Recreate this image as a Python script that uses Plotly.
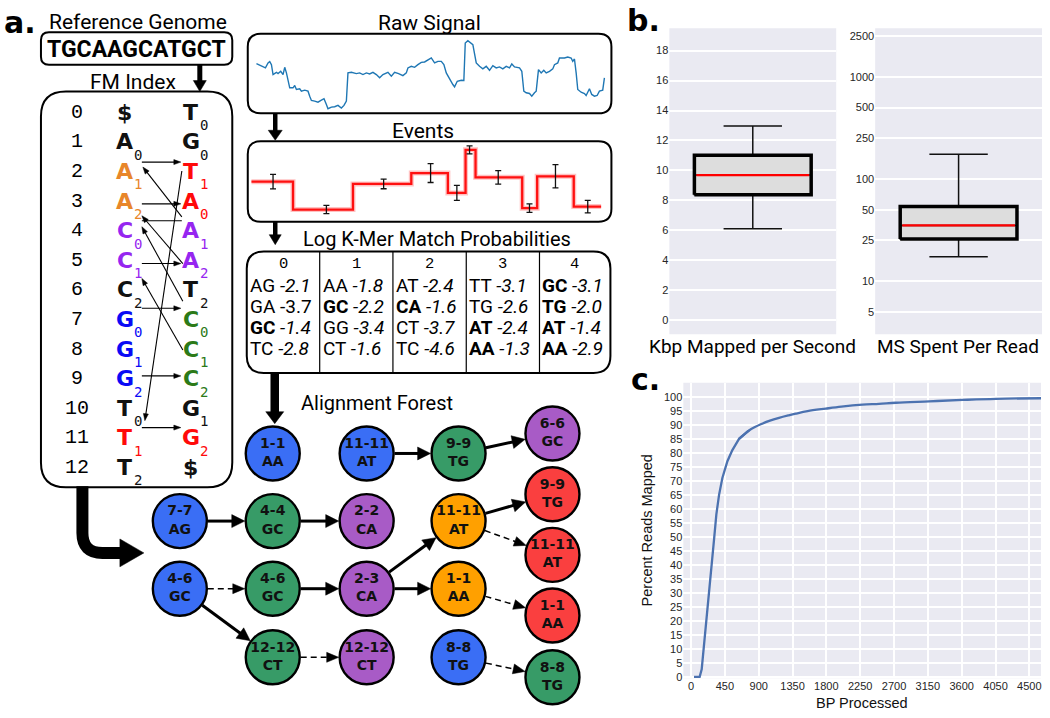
import math
import plotly.graph_objects as go

W, H = 1050, 718

# ======================= DATA =======================
reference_genome = "TGCAAGCATGCT"

fm_rows = list(range(13))
fm_first_char = ['$', 'A', 'A', 'A', 'C', 'C', 'C', 'G', 'G', 'G', 'T', 'T', 'T']
fm_first_sub = ['', '0', '1', '2', '0', '1', '2', '0', '1', '2', '0', '1', '2']
fm_first_grp = ['k', 'k', 'o', 'o', 'p', 'p', 'k', 'b', 'b', 'b', 'k', 'r', 'k']
fm_last_char = ['T', 'G', 'T', 'A', 'A', 'A', 'T', 'C', 'C', 'C', 'G', 'G', '$']
fm_last_sub = ['0', '0', '1', '0', '1', '2', '2', '0', '1', '2', '1', '2', '']
fm_last_grp = ['k', 'k', 'r', 'r', 'p', 'p', 'k', 'g', 'g', 'g', 'k', 'r', 'k']

signal_t = [0.7, 5.7, 9.7, 12.3, 14, 15.7, 17.3, 20.7, 22.3, 25,
            27.3, 29, 30.7, 34, 37.3, 39, 40.7, 44, 45.7, 49,
            52.3, 54, 55.7, 59, 62.3, 65.7, 68.3, 70.7, 72.3, 75.7,
            79, 82.3, 85.7, 88.3, 90.7, 92.3, 95.7, 100.7, 104, 107.3,
            110.7, 114, 117.3, 120.7, 124, 127.3, 132.3, 135.7, 139, 143,
            147.3, 150.7, 152.3, 155.7, 159, 162.3, 165.7, 169, 172.3, 175.7,
            179, 182.3, 185.7, 188.3, 190.7, 194, 197.3, 199, 201.7, 205.7,
            208.3, 209.7, 212.3, 217.3, 219, 220.7, 224, 227.3, 230.7, 234,
            237.3, 240.7, 244, 247.3, 250.7, 254, 256.3, 259, 264, 266.3,
            268.3, 270.7, 274, 276.3, 279, 280.7, 283, 285.7, 288.3, 290.7,
            294, 297.3, 299, 302.3, 304, 309, 312.3, 315.7, 317.3, 319,
            320.7, 322.3, 325.7, 329, 330.7, 334, 336.3, 339, 341.7, 344,
            347.3, 349]
signal_pA = [56, 54, 51.7, 56.7, 58, 55, 45, 47.3, 46, 48.3,
             45, 52.3, 46.7, 31.7, 31.7, 34, 30, 30.7, 28.3, 29.3,
             28.3, 23.3, 19, 18.3, 17.3, 19.3, 20.7, 15, 10.7, 12.3,
             12.7, 14, 11.3, 14, 18.3, 46.7, 47.3, 46, 46.7, 45,
             46.7, 45.7, 47.3, 45, 41.7, 45, 47.3, 43.3, 47.3, 46,
             44, 46.7, 51.7, 53.3, 52.3, 55, 57.3, 57.7, 59.3, 61.7,
             56.7, 58.3, 58.3, 55, 46.7, 40, 35, 32.7, 38.3, 39.3,
             39, 76.7, 79, 75, 63.3, 56.7, 53.3, 50.7, 53.3, 49.3,
             54, 51.7, 52.7, 50.7, 53.3, 51.7, 55.7, 52.7, 51.7, 48.3,
             28.3, 26.7, 26, 23.3, 26.7, 28.3, 50, 46.7, 49.3, 46.7,
             48.3, 50.7, 55, 56.7, 61.7, 61.7, 62.7, 61.7, 58.3, 60.7,
             46.7, 30, 27.3, 26, 24, 30.7, 25, 23.3, 24, 28.3,
             29.3, 41.7]

event_bounds = [-4.3, 37.3, 97.3, 155.7, 192.3, 210, 220, 266.7, 281.7, 318.3, 345.7]
event_center = [17.3, 70.7, 128, 175, 201.3, 214, 242.7, 274, 300, 332.3]
event_mean = [47.3, 19.3, 45, 56, 36, 79.3, 51.7, 20.7, 52.7, 22.3]
event_sd = [7.3, 4.2, 4.8, 9.5, 7.5, 4, 6.8, 4.2, 11.7, 6.3]

kmer_event_ids = ['0', '1', '2', '3', '4']
kmer_names = [["AG", "GA", "GC", "TC"], ["AA", "GC", "GG", "CT"], ["AT", "CA", "CT", "TC"],
              ["TT", "TG", "AT", "AA"], ["GC", "TG", "AT", "AA"]]
kmer_logp = [[-2.1, -3.7, -1.4, -2.8], [-1.8, -2.2, -3.4, -1.6], [-2.4, -1.6, -3.7, -4.6],
             [-3.1, -2.6, -2.4, -1.3], [-3.1, -2.0, -1.4, -2.9]]
kmer_in_path = [[0, 0, 1, 0], [0, 1, 0, 0], [0, 1, 0, 0], [0, 0, 1, 1], [1, 1, 1, 1]]

forest_range = ["1-1", "11-11", "9-9", "6-6", "7-7", "4-4", "2-2", "11-11", "9-9", "11-11",
                "4-6", "4-6", "2-3", "1-1", "1-1", "12-12", "12-12", "8-8", "8-8"]
forest_kmer = ["AA", "AT", "TG", "GC", "AG", "GC", "CA", "AT", "TG", "AT",
               "GC", "GC", "CA", "AA", "AA", "CT", "CT", "TG", "TG"]
forest_depth = [0, 0, 1, 2, 0, 1, 2, 3, 4, 4, 0, 1, 2, 3, 4, 1, 2, 0, 1]
forest_edge_src = [1, 2, 4, 5, 7, 7, 10, 10, 11, 12, 12, 13, 15, 17]
forest_edge_dst = [2, 3, 5, 6, 8, 9, 11, 15, 12, 7, 13, 14, 16, 18]
forest_edge_pruned = [0, 0, 0, 0, 0, 1, 1, 0, 0, 0, 0, 1, 1, 1]

kbp_per_sec = dict(lowerfence=6.11, q1=8.37, median=9.69, q3=11.02, upperfence=12.97)
ms_per_read = dict(lowerfence=17.3, q1=25.8, median=35.1, q3=53.7, upperfence=175)
kbp_ticks = [0, 2, 4, 6, 8, 10, 12, 14, 16, 18]
ms_ticks = [5, 10, 25, 50, 100, 250, 500, 1000, 2500]

cdf_bp = [40, 115, 142, 173, 204, 240, 271, 306, 337, 373, 417, 484, 550, 639, 772,
          850, 928, 1050, 1171, 1300, 1393, 1550, 1792, 2000, 2280, 2500, 2725, 3168,
          3611, 4056, 4655]
cdf_pct = [0, 0, 2.7, 11, 19, 28.7, 38, 49, 58, 65, 71, 77, 81, 85, 88,
           89.2, 90.2, 91.5, 92.5, 93.4, 94, 94.9, 95.8, 96.5, 97.2, 97.5, 97.9, 98.4,
           98.9, 99.3, 99.5]
bp_ticks = [0, 450, 900, 1350, 1800, 2250, 2700, 3150, 3600, 4050, 4500]
pct_ticks = list(range(0, 101, 5))

# ======================= STYLE / LAYOUT =======================
FM_COLORS = {'k': '#111111', 'o': '#E8862A', 'p': '#9626F0', 'b': '#0A0AF5', 'r': '#FF0A0A', 'g': '#2C7A18'}
DEPTH_COLORS = ['#3A6EF5', '#379B67', '#A85BC6', '#FFA000', '#FA3F3F']
FM_ROW_Y0, FM_ROW_DY = 113, 29.75
FM_NUM_X, FM_F_X, FM_L_X = 77, 125, 191
FOREST_COL_X = [180, 273, 367, 459, 553]
FOREST_ROW_Y = [456, 524, 592, 661]
FOREST_COL4_Y = [436, 497, 558, 619, 681]
FOREST_SLOTS = [(1, 0), (2, 0), (3, 0), (4, 0), (0, 1), (1, 1), (2, 1), (3, 1), (4, 1), (4, 2),
                (0, 2), (1, 2), (2, 2), (3, 2), (4, 3), (1, 3), (2, 3), (3, 3), (4, 4)]
NODE_R = 28
TABLE_X = [247, 320, 393.3, 466.7, 540, 611]
TABLE_ROWS_Y = [287, 308, 329, 350.5]
BOX_W = 0.7
CDF_STEEP_PART = 15  # leading points drawn straight, tail drawn smooth

shapes = []
annotations = []


def txt(x, y, s, size, family='Roboto', color='black', xanchor='center', yanchor='middle', angle=0):
    annotations.append(dict(x=x, y=y, xref='x', yref='y', text=s, showarrow=False,
                            font=dict(family=family, size=size, color=color),
                            xanchor=xanchor, yanchor=yanchor, textangle=angle, borderpad=0))


def rr_path(x0, y0, x1, y1, r):
    return (f"M{x0 + r},{y0} L{x1 - r},{y0} Q{x1},{y0} {x1},{y0 + r} L{x1},{y1 - r} "
            f"Q{x1},{y1} {x1 - r},{y1} L{x0 + r},{y1} Q{x0},{y1} {x0},{y1 - r} "
            f"L{x0},{y0 + r} Q{x0},{y0} {x0 + r},{y0} Z")


def rbox(x0, y0, x1, y1, r, lw=2):
    shapes.append(dict(type='path', xref='x', yref='y', path=rr_path(x0, y0, x1, y1, r),
                       line=dict(color='black', width=lw), fillcolor='rgba(0,0,0,0)', layer='above'))


def arrow(x0, y0, x1, y1, lw, hl, hw, dash='solid', head=True):
    dx, dy = x1 - x0, y1 - y0
    L = math.hypot(dx, dy)
    ux, uy = dx / L, dy / L
    if head:
        sx, sy = x1 - ux * hl * 0.7, y1 - uy * hl * 0.7
    else:
        sx, sy = x1, y1
    shapes.append(dict(type='line', xref='x', yref='y', x0=x0, y0=y0, x1=sx, y1=sy,
                       line=dict(color='black', width=lw, dash=dash), layer='above'))
    if head:
        bx, by = x1 - ux * hl, y1 - uy * hl
        px, py = -uy, ux
        p = (f"M{x1},{y1} L{bx + px * hw / 2},{by + py * hw / 2} "
             f"L{bx - px * hw / 2},{by - py * hw / 2} Z")
        shapes.append(dict(type='path', xref='x', yref='y', path=p, fillcolor='black',
                           line=dict(color='black', width=0.5), layer='above'))


# ---------- panel a: genome + FM index ----------
txt(20, 23, '<b>a.</b>', 30, family='DejaVu Sans')
txt(138, 22, 'Reference Genome', 21)
rbox(41, 32.5, 232.5, 65, 8)
txt(137, 49.5, f'<b>{reference_genome}</b>', 23)
arrow(200, 65, 200, 92, 5, 11, 13)
txt(133, 82, 'FM Index', 21)
rbox(41, 92, 232.5, 490, 25)

for i in fm_rows:
    y = FM_ROW_Y0 + i * FM_ROW_DY
    txt(FM_NUM_X, y, str(i), 20, family='Liberation Mono')
    c1 = FM_COLORS[fm_first_grp[i]]
    txt(FM_F_X, y, f'<b>{fm_first_char[i]}</b>', 22, family='DejaVu Sans', color=c1)
    if fm_first_sub[i]:
        txt(FM_F_X + 8, y + 13, fm_first_sub[i], 14, family='DejaVu Sans Mono', color=c1, xanchor='left')
    c2 = FM_COLORS[fm_last_grp[i]]
    txt(FM_L_X, y, f'<b>{fm_last_char[i]}</b>', 22, family='DejaVu Sans', color=c2)
    if fm_last_sub[i]:
        txt(FM_L_X + 8, y + 13, fm_last_sub[i], 14, family='DejaVu Sans Mono', color=c2, xanchor='left')

for yy in [163, 205, 265, 310, 378, 430]:
    arrow(142, yy, 181, yy, 1.1, 7, 5)
arrow(142, 222, 182, 222, 1.1, 7, 5, head=False)
for (a, b) in [((182, 218), (143, 168)), ((183, 265), (142, 217)), ((183, 303), (142, 228)),
               ((183, 352), (142, 280)), ((182, 172), (145, 423))]:
    arrow(a[0], a[1], b[0], b[1], 1.1, 7, 5)

# elbow arrow FM -> forest
shapes.append(dict(type='path', xref='x', yref='y',
                   path="M82.5,489 L82.5,536 Q82.5,556 102.5,556 L122,556",
                   line=dict(color='black', width=12), fillcolor='rgba(0,0,0,0)', layer='above'))
shapes.append(dict(type='path', xref='x', yref='y', path="M144,556 L120,542 L120,570 Z",
                   fillcolor='black', line=dict(color='black', width=0.5), layer='above'))

# ---------- raw signal / events ----------
txt(430, 23, 'Raw Signal', 21)
rbox(248, 34, 612, 114, 13)
arrow(275.5, 114, 275.5, 141, 4.5, 10, 14)
txt(423, 132, 'Events', 21)
rbox(248, 142, 612, 223, 13)
arrow(275.5, 223, 275.5, 246, 4.5, 10, 12)

# ---------- table ----------
txt(437.5, 240, 'Log K-Mer Match Probabilities', 20)
rbox(247, 253, 611, 375, 17)
for xd in TABLE_X[1:-1]:
    shapes.append(dict(type='line', xref='x', yref='y', x0=xd, x1=xd, y0=253, y1=375,
                       line=dict(color='black', width=1.2), layer='above'))
for c in range(5):
    cx = (TABLE_X[c] + TABLE_X[c + 1]) / 2
    txt(cx, 265.5, kmer_event_ids[c], 15.5, family='Liberation Mono')
    for r in range(4):
        k = kmer_names[c][r]
        if kmer_in_path[c][r]:
            k = f'<b>{k}</b>'
        v = f'{kmer_logp[c][r]:.1f}'
        v = v if (c, r) == (0, 1) else f'<i>{v}</i>'
        txt(TABLE_X[c] + 2, TABLE_ROWS_Y[r], f'{k} {v}', 19, xanchor='left')
arrow(275, 375, 275, 426, 8.5, 12, 18)

# ---------- forest ----------
txt(377, 405, 'Alignment Forest', 20)
node_x = [FOREST_COL_X[c] for c, r in FOREST_SLOTS]
node_y = [(FOREST_COL4_Y if c == 4 else FOREST_ROW_Y)[r] for c, r in FOREST_SLOTS]
for s, d, pr in zip(forest_edge_src, forest_edge_dst, forest_edge_pruned):
    x0, y0, x1, y1 = node_x[s], node_y[s], node_x[d], node_y[d]
    L = math.hypot(x1 - x0, y1 - y0)
    ux, uy = (x1 - x0) / L, (y1 - y0) / L
    if pr:
        arrow(x0 + ux * NODE_R, y0 + uy * NODE_R, x1 - ux * NODE_R, y1 - uy * NODE_R,
              1.5, 12, 10, dash='6px,4px')
    else:
        arrow(x0 + ux * NODE_R, y0 + uy * NODE_R, x1 - ux * NODE_R, y1 - uy * NODE_R, 3, 13, 13)

fig = go.Figure()
fig.add_trace(go.Scatter(
    x=node_x, y=node_y, mode='markers+text', xaxis='x', yaxis='y', hoverinfo='skip',
    marker=dict(size=54, color=[DEPTH_COLORS[d] for d in forest_depth],
                line=dict(color='black', width=2.4)),
    text=[f'{a}<br>{b}' for a, b in zip(forest_range, forest_kmer)],
    textposition='middle center',
    textfont=dict(family='DejaVu Sans', size=14, color='#111111', weight='bold')))

fig.add_trace(go.Scatter(x=signal_t, y=signal_pA, mode='lines', xaxis='x2', yaxis='y2',
                         line=dict(color='#1F77B4', width=1.4), hoverinfo='skip'))
step_y = event_mean + [event_mean[-1]]
fig.add_trace(go.Scatter(x=event_bounds, y=step_y, mode='lines', xaxis='x3', yaxis='y3',
                         line=dict(color='rgba(255,80,80,0.35)', width=5, shape='hv'), hoverinfo='skip'))
fig.add_trace(go.Scatter(x=event_bounds, y=step_y, mode='lines', xaxis='x3', yaxis='y3',
                         line=dict(color='#FF1010', width=2.3, shape='hv'), hoverinfo='skip'))
fig.add_trace(go.Scatter(x=event_center, y=event_mean, mode='markers', xaxis='x3', yaxis='y3',
                         marker=dict(size=2, color='rgba(0,0,0,0)'),
                         error_y=dict(type='data', array=event_sd, color='#111111', thickness=1.3, width=3),
                         hoverinfo='skip'))

# ---------- panel b ----------
for stats, xa, ya in [(kbp_per_sec, 'x4', 'y4'), (ms_per_read, 'x5', 'y5')]:
    fig.add_trace(go.Box(x=[0], q1=[stats['q1']], median=[stats['median']], q3=[stats['q3']],
                         lowerfence=[stats['lowerfence']], upperfence=[stats['upperfence']],
                         width=BOX_W, whiskerwidth=0.5, fillcolor='#DDDDDD', boxpoints=False,
                         line=dict(color='#111111', width=1.5), xaxis=xa, yaxis=ya, hoverinfo='skip'))
    hw = BOX_W / 2
    fig.add_trace(go.Scatter(x=[-hw, hw, hw, -hw, -hw],
                             y=[stats['q1'], stats['q1'], stats['q3'], stats['q3'], stats['q1']],
                             mode='lines', line=dict(color='black', width=3.5), xaxis=xa, yaxis=ya,
                             hoverinfo='skip'))
    fig.add_trace(go.Scatter(x=[-hw + 0.012, hw - 0.012], y=[stats['median'], stats['median']],
                             mode='lines', line=dict(color='#FF0000', width=2.2), xaxis=xa, yaxis=ya,
                             hoverinfo='skip'))

# ---------- panel c ----------
fig.add_trace(go.Scatter(x=cdf_bp[:CDF_STEEP_PART], y=cdf_pct[:CDF_STEEP_PART], mode='lines',
                         xaxis='x6', yaxis='y6', line=dict(color='#4C72B0', width=2.3),
                         hoverinfo='skip'))
fig.add_trace(go.Scatter(x=cdf_bp[CDF_STEEP_PART - 2:], y=cdf_pct[CDF_STEEP_PART - 2:], mode='lines',
                         xaxis='x6', yaxis='y6', line=dict(color='#4C72B0', width=2.3, shape='spline'),
                         hoverinfo='skip'))

for xa, ya in [('x4', 'y4'), ('x5', 'y5'), ('x6', 'y6')]:
    shapes.append(dict(type='rect', xref=f'{xa} domain', yref=f'{ya} domain', x0=0, x1=1, y0=0, y1=1,
                       fillcolor='#EAEAF2', line=dict(width=0), layer='below'))

txt(644, 21, '<b>b.</b>', 30, family='DejaVu Sans')
txt(753, 348, 'Kbp Mapped per Second', 19)
txt(959, 348, 'MS Spent Per Read', 19)
txt(646, 382, '<b>c.</b>', 30, family='DejaVu Sans')
txt(863, 707, 'BP Processed', 14.5, family='Liberation Sans', color='#111111')
txt(648, 533, 'Percent Reads Mapped', 14.5, family='Liberation Sans', color='#111111', angle=-90)

tickfont = dict(family='Liberation Sans', size=11, color='#262626')
hidden = dict(visible=False, fixedrange=True)


def yd(top, bottom):
    return [1 - bottom / H, 1 - top / H]


fig.update_layout(
    width=W, height=H, margin=dict(l=0, r=0, t=0, b=0), autosize=False,
    paper_bgcolor='white', plot_bgcolor='rgba(0,0,0,0)', showlegend=False, hovermode=False,
    xaxis=dict(domain=[0, 1], range=[0, W], anchor='y', **hidden),
    yaxis=dict(domain=[0, 1], range=[H, 0], anchor='x', **hidden),
    xaxis2=dict(domain=[248 / W, 612 / W], range=[-8, 356], anchor='y2', **hidden),
    yaxis2=dict(domain=yd(33, 115), range=[5, 87], anchor='x2', **hidden),
    xaxis3=dict(domain=[248 / W, 612 / W], range=[-8, 356], anchor='y3', **hidden),
    yaxis3=dict(domain=yd(142, 223), range=[7, 88], anchor='x3', **hidden),
    xaxis4=dict(domain=[670 / W, 837 / W], range=[-0.5, 0.5], anchor='y4', showgrid=False,
                zeroline=False, showticklabels=False, ticks='', fixedrange=True),
    yaxis4=dict(domain=yd(28.3, 336), range=[-0.93, 19.5], anchor='x4', tickvals=kbp_ticks,
                ticktext=[str(t) for t in kbp_ticks], gridcolor='white', gridwidth=1.6,
                zeroline=False, showline=False, ticks='', tickfont=tickfont, fixedrange=True),
    xaxis5=dict(domain=[876 / W, 1043 / W], range=[-0.5, 0.5], anchor='y5', showgrid=False,
                zeroline=False, showticklabels=False, ticks='', fixedrange=True),
    yaxis5=dict(domain=yd(28.3, 336), type='log', range=[0.481, 3.477], anchor='x5',
                tickvals=ms_ticks, ticktext=[str(t) for t in ms_ticks], gridcolor='white',
                gridwidth=1.6, zeroline=False, showline=False, ticks='', tickfont=tickfont,
                fixedrange=True),
    xaxis6=dict(domain=[684 / W, 1042 / W], range=[-102, 4655], anchor='y6', tickvals=bp_ticks,
                ticktext=[str(t) for t in bp_ticks], gridcolor='white', gridwidth=1.5,
                zeroline=False, showline=False, ticks='', tickfont=tickfont, fixedrange=True),
    yaxis6=dict(domain=yd(385, 682), range=[-0.5, 105], anchor='x6', tickvals=pct_ticks,
                ticktext=[str(t) for t in pct_ticks], gridcolor='white', gridwidth=1.5,
                zeroline=False, showline=False, ticks='', tickfont=tickfont, fixedrange=True),
    shapes=shapes, annotations=annotations,
)

fig.write_html("out.html", config={'displayModeBar': False},
               post_script="document.body.style.margin='0px';document.body.style.padding='0px';")
